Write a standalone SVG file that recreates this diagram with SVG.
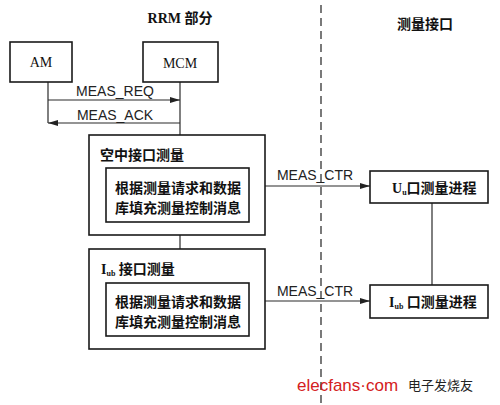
<svg xmlns="http://www.w3.org/2000/svg" width="500" height="405" viewBox="0 0 500 405">
<style>
.box{fill:#fff;stroke:#1a1a1a;stroke-width:1.6}
.ln{fill:none;stroke:#2a2a2a;stroke-width:1.2}
.ser{font-family:"Liberation Serif",serif;fill:#111}
.sans{font-family:"Liberation Sans",sans-serif;fill:#222;font-size:14px}
.cn{font-family:"Liberation Serif","Noto Sans CJK SC",serif;fill:#111;font-weight:bold}
</style>
<defs>
<marker id="ah" markerWidth="10" markerHeight="6" refX="10" refY="3" orient="auto" markerUnits="userSpaceOnUse">
<path d="M0,0 L10,3 L0,6 Z" fill="#222"/>
</marker>
</defs>
<rect width="500" height="405" fill="#fff"/>
<text class="cn" x="180" y="23" font-size="14" text-anchor="middle">RRM 部分</text>
<text class="cn" x="425" y="29" font-size="14" text-anchor="middle">测量接口</text>
<line x1="321" y1="5" x2="321" y2="405" stroke="#333" stroke-width="1.3" stroke-dasharray="8,5"/>
<g id="connectors">
<polyline class="ln" points="48,82 48,123"/>
<line class="ln" x1="180" y1="82" x2="180" y2="135"/>
<line class="ln" x1="48" y1="100" x2="180" y2="100" marker-end="url(#ah)"/>
<line class="ln" x1="180" y1="123" x2="48" y2="123" marker-end="url(#ah)"/>
<text class="sans" x="115" y="96" text-anchor="middle">MEAS_REQ</text>
<text class="sans" x="115" y="120" text-anchor="middle">MEAS_ACK</text>
<line class="ln" x1="180" y1="235" x2="180" y2="249"/>
<line class="ln" x1="265" y1="186" x2="370" y2="186" marker-end="url(#ah)"/>
<text class="sans" x="315" y="180" text-anchor="middle">MEAS_CTR</text>
<line class="ln" x1="265" y1="301" x2="370" y2="301" marker-end="url(#ah)"/>
<text class="sans" x="315" y="296" text-anchor="middle">MEAS_CTR</text>
<line class="ln" x1="432" y1="203" x2="432" y2="285"/>
</g>
<g id="am">
<rect class="box" x="10" y="42" width="62" height="40"/>
<text class="ser" x="41" y="67" font-size="14" text-anchor="middle">AM</text>
</g>
<g id="mcm">
<rect class="box" x="143" y="42" width="75" height="40"/>
<text class="ser" x="180" y="68" font-size="14" text-anchor="middle">MCM</text>
</g>
<g id="air">
<rect class="box" x="89" y="135" width="176" height="100"/>
<text class="cn" x="100" y="160" font-size="14">空中接口测量</text>
<rect class="box" x="106" y="168" width="143" height="54"/>
<text class="cn" x="178" y="193" font-size="14" text-anchor="middle">根据测量请求和数据</text>
<text class="cn" x="178" y="213" font-size="14" text-anchor="middle">库填充测量控制消息</text>
</g>
<g id="iub">
<rect class="box" x="89" y="249" width="176" height="100"/>
<text class="cn" x="101" y="274" font-size="14">I<tspan font-size="8" dy="2">ub</tspan><tspan dy="-2"> 接口测量</tspan></text>
<rect class="box" x="106" y="283" width="143" height="53"/>
<text class="cn" x="178" y="307" font-size="14" text-anchor="middle">根据测量请求和数据</text>
<text class="cn" x="178" y="327" font-size="14" text-anchor="middle">库填充测量控制消息</text>
</g>
<g id="uu-proc">
<rect class="box" x="370" y="171" width="118" height="32"/>
<text class="cn" x="392" y="193" font-size="14">U<tspan font-size="8" dy="2">u</tspan><tspan dy="-2">口测量进程</tspan></text>
</g>
<g id="iub-proc">
<rect class="box" x="370" y="285" width="118" height="33"/>
<text class="cn" x="389" y="307" font-size="14">I<tspan font-size="8" dy="2">ub</tspan><tspan dy="-2"> 口测量进程</tspan></text>
</g>
<text x="297" y="391" font-family="Liberation Sans,sans-serif" font-size="17" fill="#d42020">elecfans·com</text>
<text x="408" y="390" font-family="Noto Sans CJK SC,sans-serif" font-size="13" fill="#222">电子发烧友</text>
</svg>
